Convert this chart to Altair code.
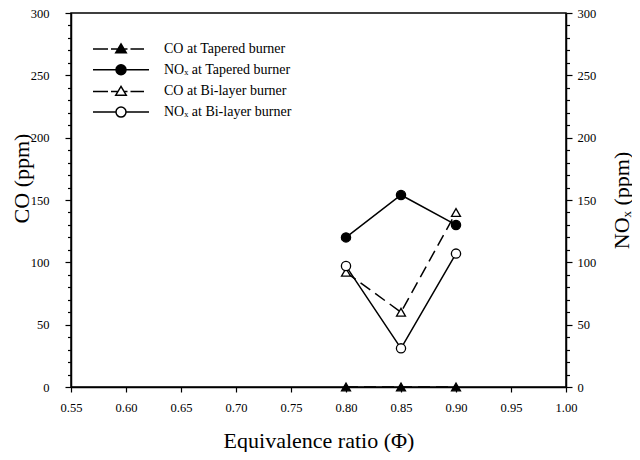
import altair as alt
import pandas as pd

# ---- data ----
phi = [0.80, 0.85, 0.90]
co_tapered = [0, 0, 0]
nox_tapered = [120, 154, 130]
co_bilayer = [92, 60, 140]
nox_bilayer = [97, 31, 107]

series_names = [
    "CO at Tapered burner",
    "NOₓ at Tapered burner",
    "CO at Bi-layer burner",
    "NOₓ at Bi-layer burner",
]
gas_names = ["CO", "NOx", "CO", "NOx"]
x_ticks = [0.55, 0.60, 0.65, 0.70, 0.75, 0.80, 0.85, 0.90, 0.95, 1.00]
y_ticks = list(range(0, 301, 10))

rows = []
for name, gas, vals in zip(series_names, gas_names,
                           [co_tapered, nox_tapered, co_bilayer, nox_bilayer]):
    for p, v in zip(phi, vals):
        rows.append({"phi": p, "value": v, "series": name, "gas": gas})
df = pd.DataFrame(rows)

FONT = "Liberation Serif"

# legend glyphs: line segments + marker (custom SVG paths, unit = marker radius)
tri = "M0,-1L1.05,0.75L-1.05,0.75Z"
circ = "M1,0A1,1 0 1,1 -1,0A1,1 0 1,1 1,0Z"
legend_paths = [
    "M-5.6,0H-2.6M-2,0H-0.6M0.6,0H1.3M1.9,0H4.6" + tri,
    "M-5.6,0H-1M1,0H5.6" + circ,
    "M-5.6,0H-2.6M-2,0H-0.6M0.6,0H1.3M1.9,0H4.6" + tri,
    "M-5.6,0H-1M1,0H5.6" + circ,
]
legend_fills = ["black", "black", "white", "white"]
legend_strokes = ["black", "black", "black", "black"]

x_enc = alt.X(
    "phi:Q",
    scale=alt.Scale(domain=[0.55, 1.0], nice=False, zero=False),
    axis=alt.Axis(values=x_ticks, format=".2f", title="Equivalence ratio (Φ)",
                  tickSize=5, labelPadding=9, titleY=60,
                  labelFont=FONT, titleFont=FONT,
                  titleBaseline="alphabetic", grid=False, labelFlush=False),
)

tick_size = {"condition": {"test": "datum.value % 50 === 0", "value": 6}, "value": 3.5}
label_expr = "datum.value % 50 === 0 ? datum.label : ''"

y_left = alt.Y(
    "value:Q",
    scale=alt.Scale(domain=[0, 300], nice=False),
    axis=alt.Axis(values=y_ticks, labelExpr=label_expr, tickSize=tick_size,
                  labelPadding=16, labelOverlap=False, grid=False,
                  labelFont=FONT, titleFont=FONT,
                  title="CO (ppm)", titleAngle=270, titleX=-50, titleY=165,
                  titleBaseline="middle"),
)
y_right = alt.Y(
    "value:Q",
    scale=alt.Scale(domain=[0, 300], nice=False),
    axis=alt.Axis(orient="right", values=y_ticks, labelExpr=label_expr,
                  tickSize=tick_size, labelPadding=5, labelOverlap=False,
                  labelFont=FONT, titleFont=FONT,
                  grid=False, title="NOₓ (ppm)", titleAngle=270, titleX=55,
                  titleBaseline="middle"),
)

fill_cond = alt.condition("indexof(datum.series, 'Tapered') >= 0",
                          alt.value("black"), alt.value("white"))

base = alt.Chart(df)
co = base.transform_filter("datum.gas === 'CO'")
nox = base.transform_filter("datum.gas === 'NOx'")

co_line = co.mark_line(color="black", strokeWidth=1.5, strokeDash=[12, 6]).encode(
    x=x_enc, y=y_left, detail="series:N")
co_pts = co.mark_point(shape="triangle-up", size=80, color="black",
                       strokeWidth=1.3, opacity=1).encode(
    x=x_enc, y=y_left, fill=fill_cond)

legend = alt.Legend(title=None, orient="none", legendX=43, legendY=29,
                    labelFont=FONT, labelFontSize=14, labelColor="black",
                    symbolSize=100, symbolStrokeWidth=1.5,
                    symbolStrokeColor="black", symbolOpacity=1,
                    labelOffset=36, rowPadding=5.7, padding=0, labelLimit=300)

legend_layer = base.mark_point(opacity=0, strokeWidth=1.5).encode(
    x=x_enc, y=y_left,
    shape=alt.Shape("series:N", sort=series_names,
                    scale=alt.Scale(domain=series_names, range=legend_paths),
                    legend=legend),
    fill=alt.Fill("series:N", sort=series_names,
                  scale=alt.Scale(domain=series_names, range=legend_fills),
                  legend=legend),
    stroke=alt.Stroke("series:N", sort=series_names,
                      scale=alt.Scale(domain=series_names, range=legend_strokes),
                      legend=legend),
)

nox_line = nox.mark_line(color="black", strokeWidth=1.5).encode(
    x=x_enc, y=y_right, detail="series:N")
nox_pts = nox.mark_point(shape="circle", size=85, color="black",
                         strokeWidth=1.3, opacity=1).encode(
    x=x_enc, y=y_right, fill=fill_cond)

left = alt.layer(co_line, co_pts, legend_layer)
right = alt.layer(nox_line, nox_pts)

chart = (
    alt.layer(left, right)
    .resolve_scale(y="independent")
    .properties(width=495, height=374,
                padding={"left": 63, "top": 5, "right": 66, "bottom": 65},
                autosize=alt.AutoSizeParams(type="none"))
    .configure(font=FONT)
    .configure_view(stroke="black", strokeWidth=1.5)
    .configure_axis(domainColor="black", domainWidth=1.5, tickColor="black",
                    tickWidth=1.2, labelFont=FONT, labelFontSize=12.5,
                    labelColor="black", titleFont=FONT, titleFontSize=22,
                    titleColor="black", titleFontWeight="normal")
)

chart.save("out.html", embed_options={"renderer": "svg", "actions": False})
